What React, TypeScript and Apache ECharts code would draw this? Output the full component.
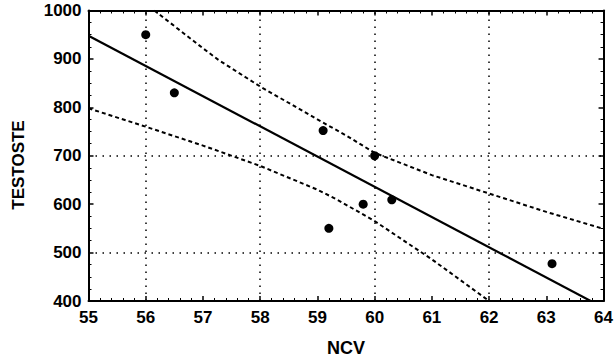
import React, { useEffect, useRef } from "react";
import * as echarts from "echarts";

// Observed points
const ncv = [56.0, 56.5, 59.1, 59.2, 59.8, 60.0, 60.3, 63.1];
const testoste = [950, 830, 752, 550, 600, 700, 609, 477];

// Fitted regression line
const fitX = [55, 64];
const fitY = [948, 386];

// Confidence band curves
const upperX = [56.15, 57, 57.27, 58, 59, 59.5, 60, 61, 62, 63, 64];
const upperY = [1000, 922, 898, 843, 775, 742, 706, 660, 622, 584, 549];
const lowerX = [55, 56, 57, 58, 59, 59.35, 60, 61, 62];
const lowerY = [798, 760, 721, 679, 630, 609, 565, 486, 400];

// Dotted reference grid lines
const gridX = [56, 58, 60, 62];
const gridY = [500, 700];

const xName = "NCV";
const yName = "TESTOSTE";

const FONT = "'Liberation Sans', Arial, Helvetica, sans-serif";

function pairs(xs: number[], ys: number[]) {
  return xs.map((x, i) => [x, ys[i]]);
}

export default function App() {
  const ref = useRef<HTMLDivElement>(null);
  useEffect(() => {
    if (!ref.current) return;
    const chart = echarts.init(ref.current, undefined, { renderer: "svg" });
    const axisLine = { show: true, lineStyle: { color: "#000", width: 2 } };
    const tick = { show: true, inside: true, length: 5, lineStyle: { color: "#000", width: 1.5 } };
    const minor = (n: number) => ({ show: true, splitNumber: n, length: 3, lineStyle: { color: "#000", width: 1 } });
    const label = { color: "#000", fontFamily: FONT, fontWeight: "bold" as const, fontSize: 17 };
    const gridStyle = { color: "#000", width: 1.5, type: [1.5, 5.5] as number[] };
    const bandStyle = { color: "#000", width: 2, type: [4, 3] as number[] };
    chart.setOption({
      animation: false,
      backgroundColor: "#fff",
      grid: { left: 88.5, right: 7.5, top: 10.5, bottom: 61, containLabel: false },
      xAxis: [
        {
          type: "value", min: 55, max: 64, interval: 1, position: "bottom",
          axisLine, axisTick: tick, minorTick: minor(5),
          axisLabel: { ...label, margin: 8, formatter: (v: number) => String(v) },
          splitLine: { show: false },
          name: xName, nameLocation: "middle", nameGap: 38,
          nameTextStyle: { color: "#000", fontFamily: FONT, fontWeight: "bold", fontSize: 18 },
        },
        {
          type: "value", min: 55, max: 64, interval: 1, position: "top",
          axisLine, axisTick: tick, minorTick: minor(5),
          axisLabel: { show: false }, splitLine: { show: false },
        },
      ],
      yAxis: [
        {
          type: "value", min: 400, max: 1000, interval: 100, position: "left",
          axisLine, axisTick: tick, minorTick: minor(4),
          axisLabel: { ...label, margin: 7, formatter: (v: number) => String(v) },
          splitLine: { show: false },
        },
        {
          type: "value", min: 400, max: 1000, interval: 100, position: "right",
          axisLine, axisTick: tick, minorTick: minor(4),
          axisLabel: { show: false }, splitLine: { show: false },
        },
      ],
      graphic: [
        {
          type: "text", x: 18, y: 165, rotation: Math.PI / 2,
          style: {
            text: yName, fill: "#000", font: `bold 17px ${FONT}`,
            align: "center", verticalAlign: "middle",
          },
        },
      ],
      series: [
        {
          type: "line", data: [], silent: true,
          markLine: {
            silent: true, symbol: "none", label: { show: false },
            lineStyle: gridStyle,
            data: [...gridX.map((v) => ({ xAxis: v })), ...gridY.map((v) => ({ yAxis: v }))],
          },
        },
        {
          type: "line", data: pairs(upperX, upperY), showSymbol: false, symbol: "none",
          smooth: false, clip: true, lineStyle: bandStyle,
        },
        {
          type: "line", data: pairs(lowerX, lowerY), showSymbol: false, symbol: "none",
          smooth: false, clip: true, lineStyle: bandStyle,
        },
        {
          type: "line", data: pairs(fitX, fitY), showSymbol: false, symbol: "none",
          clip: true, lineStyle: { color: "#000", width: 2.2, type: "solid" },
        },
        {
          type: "scatter", data: pairs(ncv, testoste), symbol: "circle", symbolSize: 9,
          itemStyle: { color: "#000", opacity: 1 },
        },
      ],
    });
    return () => chart.dispose();
  }, []);
  return (
    <div
      ref={ref}
      style={{ position: "fixed", left: 0, top: 0, width: 616, height: 362, background: "#fff" }}
    />
  );
}
